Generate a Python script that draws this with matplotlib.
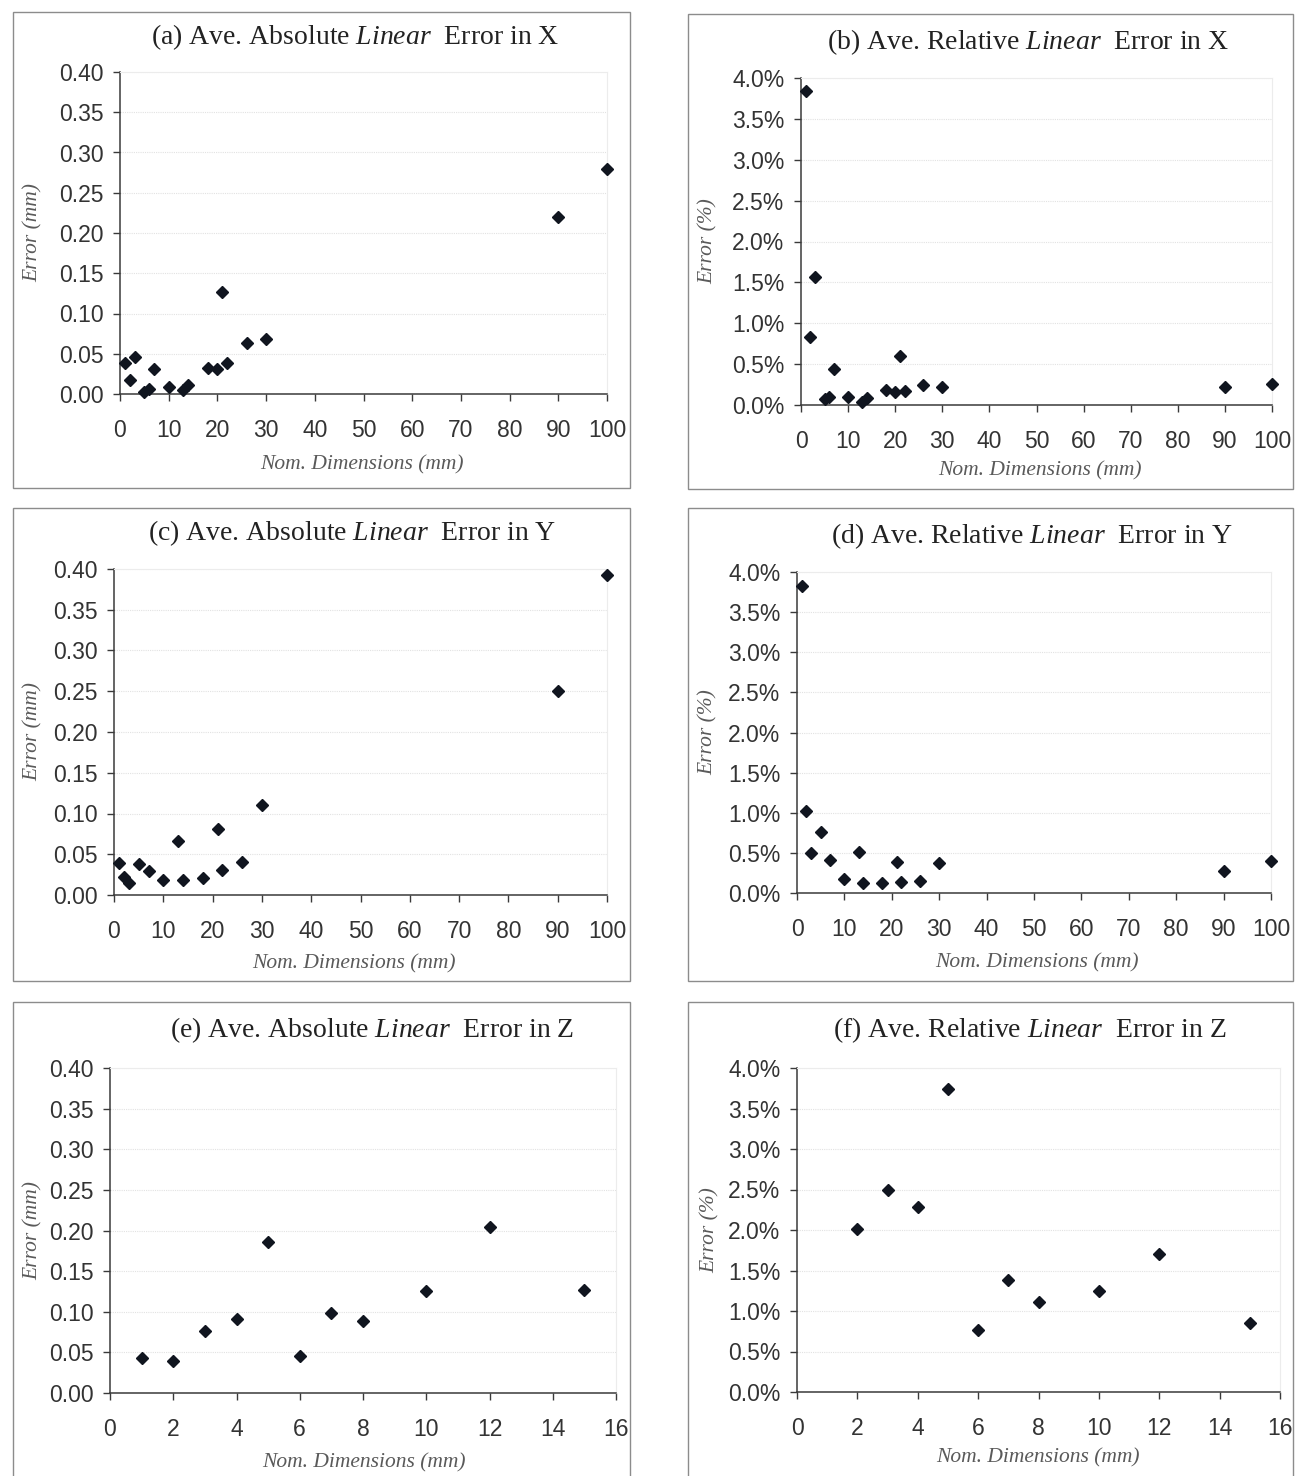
import matplotlib
matplotlib.use("Agg")
import matplotlib.pyplot as plt
from matplotlib.patches import Rectangle
from matplotlib.ticker import MultipleLocator, FuncFormatter

plt.rcParams["mathtext.fontset"] = "custom"
plt.rcParams["mathtext.rm"] = "Liberation Serif"
plt.rcParams["mathtext.it"] = "Liberation Serif:italic"

# ---- data: nominal dimensions (mm) and average errors ----
x_dims_X = [1, 2, 3, 5, 6, 7, 10, 13, 14, 18, 20, 21, 22, 26, 30, 90, 100]
abs_err_X = [0.038, 0.018, 0.046, 0.003, 0.006, 0.031, 0.009, 0.005, 0.011,
             0.032, 0.031, 0.127, 0.038, 0.063, 0.068, 0.220, 0.280]
rel_err_X = [3.84, 0.83, 1.56, 0.07, 0.10, 0.44, 0.10, 0.04, 0.08,
             0.18, 0.16, 0.60, 0.17, 0.24, 0.22, 0.22, 0.26]

x_dims_Y = [1, 2, 3, 5, 7, 10, 13, 14, 18, 21, 22, 26, 30, 90, 100]
abs_err_Y = [0.039, 0.022, 0.015, 0.038, 0.029, 0.018, 0.066, 0.019, 0.021,
             0.081, 0.031, 0.040, 0.111, 0.250, 0.393]
rel_err_Y = [3.83, 1.02, 0.50, 0.76, 0.41, 0.18, 0.51, 0.13, 0.12,
             0.39, 0.14, 0.15, 0.37, 0.28, 0.40]

x_dims_Z_abs = [1, 2, 3, 4, 5, 6, 7, 8, 10, 12, 15]
abs_err_Z = [0.043, 0.040, 0.076, 0.091, 0.186, 0.046, 0.098, 0.089, 0.125, 0.204, 0.127]
x_dims_Z_rel = [2, 3, 4, 5, 6, 7, 8, 10, 12, 15]
rel_err_Z = [2.01, 2.50, 2.28, 3.74, 0.76, 1.38, 1.11, 1.25, 1.70, 0.85]

titles = [
    r"(a) Ave. Absolute $\mathit{Linear}$  Error in X",
    r"(b) Ave. Relative $\mathit{Linear}$  Error in X",
    r"(c) Ave. Absolute $\mathit{Linear}$  Error in Y",
    r"(d) Ave. Relative $\mathit{Linear}$  Error in Y",
    r"(e) Ave. Absolute $\mathit{Linear}$  Error in Z",
    r"(f) Ave. Relative $\mathit{Linear}$  Error in Z",
]

W, H = 1297, 1476
fig = plt.figure(figsize=(W / 100, H / 100), dpi=100)
fig.patch.set_facecolor("white")

SANS = "Liberation Sans"
SERIF = "Liberation Serif"
MARK = "#10151f"
LABEL_GRAY = "#5a5a5a"


def fx(px):
    return px / W


def fy(py):
    return 1 - py / H


# panel layout in pixels: frame box, plot box (x0, x1, ytop, ybottom), text anchors
panels = [
    dict(frame=(13, 12, 630, 488), plot=(120, 607, 72, 394), title=(355, 37),
         xlab=(362, 465), ylab=33),
    dict(frame=(688, 14, 1293, 489), plot=(801, 1272, 78, 405), title=(1028, 42),
         xlab=(1040, 471), ylab=708),
    dict(frame=(13, 508, 630, 981), plot=(114, 607, 569, 895), title=(352, 533),
         xlab=(354, 964), ylab=33),
    dict(frame=(688, 508, 1293, 981), plot=(797, 1271, 572, 893), title=(1032, 536),
         xlab=(1037, 963), ylab=708),
    dict(frame=(13, 1002, 630, 1480), plot=(110, 616, 1068, 1393), title=(372, 1030),
         xlab=(364, 1463), ylab=33),
    dict(frame=(688, 1002, 1293, 1480), plot=(797, 1280, 1068, 1392), title=(1030, 1030),
         xlab=(1038, 1458), ylab=710),
]

series = [
    (x_dims_X, abs_err_X, "abs", 100, 10),
    (x_dims_X, rel_err_X, "rel", 100, 10),
    (x_dims_Y, abs_err_Y, "abs", 100, 10),
    (x_dims_Y, rel_err_Y, "rel", 100, 10),
    (x_dims_Z_abs, abs_err_Z, "abs", 16, 2),
    (x_dims_Z_rel, rel_err_Z, "rel", 16, 2),
]

for p, (xs, ys, kind, xmax, xstep), title in zip(panels, series, titles):
    fl, ft, fr, fb = p["frame"]
    fig.patches.append(Rectangle((fx(fl), fy(fb)), fx(fr - fl), (fb - ft) / H,
                                 transform=fig.transFigure, fill=False,
                                 edgecolor="#8c8c8c", lw=1.0, zorder=0))
    x0, x1, yt, yb = p["plot"]
    ax = fig.add_axes([fx(x0), fy(yb), fx(x1 - x0), (yb - yt) / H])
    ax.set_xlim(0, xmax)
    ax.xaxis.set_major_locator(MultipleLocator(xstep))
    if kind == "abs":
        ax.set_ylim(0, 0.40)
        ax.yaxis.set_major_locator(MultipleLocator(0.05))
        ax.yaxis.set_major_formatter(FuncFormatter(lambda v, _: f"{v:.2f}"))
        ylabel = "Error (mm)"
    else:
        ax.set_ylim(0, 4.0)
        ax.yaxis.set_major_locator(MultipleLocator(0.5))
        ax.yaxis.set_major_formatter(FuncFormatter(lambda v, _: f"{v:.1f}%"))
        ylabel = "Error (%)"

    for yv in ax.get_yticks()[1:]:
        ax.axhline(yv, color="#e2e2e2", lw=0.8, ls=(0, (1, 1)), zorder=0)

    ax.plot(xs, ys, ls="none", marker="D", ms=6.5, color=MARK, zorder=3,
            clip_on=False)

    for side in ("top", "right"):
        ax.spines[side].set_color("#ececec")
        ax.spines[side].set_linewidth(0.8)
    for side in ("left", "bottom"):
        ax.spines[side].set_color("#3a3a3a")
        ax.spines[side].set_linewidth(1.1)

    ax.tick_params(axis="both", direction="out", colors="#3a3a3a",
                   labelcolor="#333333", labelsize=16.5, length=5, width=1.0)
    ax.tick_params(axis="x", pad=13)
    ax.tick_params(axis="y", pad=7)
    for lab in ax.get_xticklabels() + ax.get_yticklabels():
        lab.set_fontfamily(SANS)

    fig.text(fx(p["title"][0]), fy(p["title"][1]), title, ha="center", va="center",
             fontsize=20, family=SERIF, color="#222222")
    fig.text(fx(p["xlab"][0]), fy(p["xlab"][1]), "Nom. Dimensions (mm)",
             ha="center", va="center", fontsize=15.5, family=SERIF,
             style="italic", color=LABEL_GRAY)
    fig.text(fx(p["ylab"]), fy((yt + yb) / 2), ylabel, ha="center", va="center",
             rotation=90, fontsize=15.5, family=SERIF, style="italic",
             color=LABEL_GRAY)

fig.savefig("out.png", dpi=100, facecolor="white")
